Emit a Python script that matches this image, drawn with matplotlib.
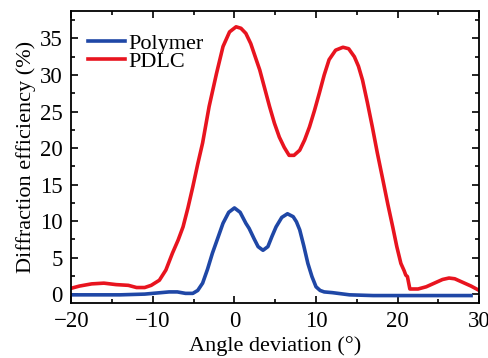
import matplotlib.pyplot as plt
from matplotlib.ticker import MultipleLocator

plt.rcParams['font.family'] = ['Liberation Serif', 'DejaVu Serif']

# PDLC curve (red)
pdlc_x = [-20, -19, -17.5, -16, -14.5, -13, -12, -11, -10.2, -9.2, -8.4, -7.6, -6.9, -6.3,
          -5.7, -5.1, -4.5, -3.9, -3.1, -2.2, -1.4, -0.6, 0.2, 0.8, 1.4, 2.0, 2.7, 3.1,
          3.7, 4.3, 4.9, 5.5, 6.1, 6.7, 7.3, 8.0, 8.6, 9.2, 9.8, 10.4, 11.0, 11.6, 12.4,
          13.3, 14.0, 14.7, 15.2, 15.7, 16.3, 16.9, 17.5, 18.2, 18.8, 19.4, 19.9, 20.4,
          20.8, 21.0, 21.2, 21.5, 22.5, 23.5, 24.5, 25.5, 26.3, 27.0, 28.0, 29.0, 30]
pdlc_y = [0.8, 1.1, 1.4, 1.5, 1.3, 1.2, 0.9, 0.9, 1.2, 1.9, 3.3, 5.6, 7.4, 9.2,
          11.8, 14.7, 17.8, 20.7, 25.7, 30.2, 33.9, 35.9, 36.6, 36.4, 35.7, 34.3, 32.0, 30.7,
          28.2, 25.7, 23.4, 21.5, 20.1, 19.0, 19.0, 19.7, 21.1, 22.9, 25.1, 27.5, 30.0, 32.1, 33.4,
          33.8, 33.6, 32.5, 31.2, 29.3, 26.2, 22.9, 19.4, 15.6, 12.3, 9.2, 6.5, 4.2,
          3.2, 2.6, 2.4, 0.7, 0.7, 1.0, 1.5, 2.0, 2.2, 2.1, 1.6, 1.1, 0.5]

# Polymer curve (blue)
poly_x = [-20, -17, -14, -11, -9, -8, -7, -6, -5.1, -4.5, -3.9, -3.3, -2.7, -2.0, -1.4,
          -0.7, 0, 0.7, 1.4, 1.8, 2.4, 2.9, 3.5, 4.1, 4.6, 5.1, 5.8, 6.5, 7.2, 7.6, 8.0,
          8.5, 9.0, 9.5, 10.0, 10.5, 11.0, 12.0, 14.1, 17, 20, 23, 26, 29]
poly_y = [-0.1, -0.1, -0.1, 0.0, 0.2, 0.3, 0.3, 0.1, 0.1, 0.5, 1.5, 3.4, 5.6, 7.8, 9.7,
          11.2, 11.8, 11.2, 9.7, 9.0, 7.6, 6.5, 6.0, 6.5, 7.9, 9.2, 10.5, 11.0, 10.6, 9.9, 8.8,
          6.6, 4.2, 2.4, 1.0, 0.5, 0.3, 0.2, -0.1, -0.2, -0.2, -0.2, -0.2, -0.2]

fig = plt.figure(figsize=(4.88, 3.58), dpi=100)
ax = fig.add_axes([0.146, 0.154, 0.836, 0.816])

ax.plot(poly_x, poly_y, color='#1f47a6', lw=2.6, label='Polymer')
ax.plot(pdlc_x, pdlc_y, color='#e8141f', lw=2.6, label='PDLC')

ax.set_xlim(-20, 30)
ax.set_ylim(-1.2, 38.8)
ax.xaxis.set_major_locator(MultipleLocator(10))
ax.xaxis.set_minor_locator(MultipleLocator(5))
ax.yaxis.set_major_locator(MultipleLocator(5))
ax.yaxis.set_minor_locator(MultipleLocator(2.5))
ax.tick_params(which='both', direction='in', top=True, right=True, labelsize=16.5, width=1.2)
ax.tick_params(which='major', length=5, pad=6)
ax.tick_params(which='minor', length=3)
for s in ax.spines.values():
    s.set_linewidth(1.3)

ax.set_xlabel('Angle deviation (°)', fontsize=16, labelpad=3)
ax.set_ylabel('Diffraction efficiency (%)', fontsize=16, labelpad=3)

ax.legend(loc='upper left', frameon=False, fontsize=16, handlelength=1.7,
          handletextpad=0.15, labelspacing=-0.1, borderaxespad=0, borderpad=0,
          bbox_to_anchor=(0.04, 0.923))

fig.savefig('out.png', dpi=100)
